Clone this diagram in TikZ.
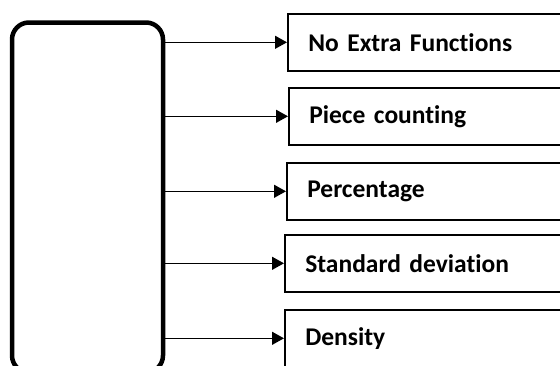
\documentclass[tikz,border=0pt]{standalone}
\usepackage{fontspec}
\setmainfont[RawFeature=-liga]{Carlito}
\usetikzlibrary{arrows.meta,positioning}
\begin{document}
\begin{tikzpicture}[x=1pt,y=-1pt,
  hub/.style={draw,line width=4.5pt,rounded corners=17pt,minimum width=151pt,minimum height=350pt,inner sep=0pt},
  option/.style={draw,line width=1.6pt,anchor=north west,minimum width=300pt,minimum height=57pt,
    inner xsep=20pt,inner ysep=0pt,text width=259pt,align=left,font=\bfseries\fontsize{25.5}{28}\selectfont},
  feed/.style={line width=1.3pt,-{Triangle[length=12pt,width=13pt]}}]
  \useasboundingbox (0,0) rectangle (560,365);
  % main block on the left (runs past the bottom edge)
  \node[hub] (main) at (87.5,197.5) {};
  % option boxes on the right (run past the right edge)
  \node[option] (o1) at (287,13) {No Extra Functions};
  \node[option] (o2) at (288,87) {Piece counting};
  \node[option] (o3) at (286,162) {Percentage};
  \node[option] (o4) at (284,234) {Standard deviation};
  \node[option] (o5) at (284,309) {Density};
  % connectors from the main block to each option
  \foreach \o in {o1,o2,o3,o4,o5}
    \draw[feed] (main.east |- \o.west) -- (\o.west);
\end{tikzpicture}
\end{document}
